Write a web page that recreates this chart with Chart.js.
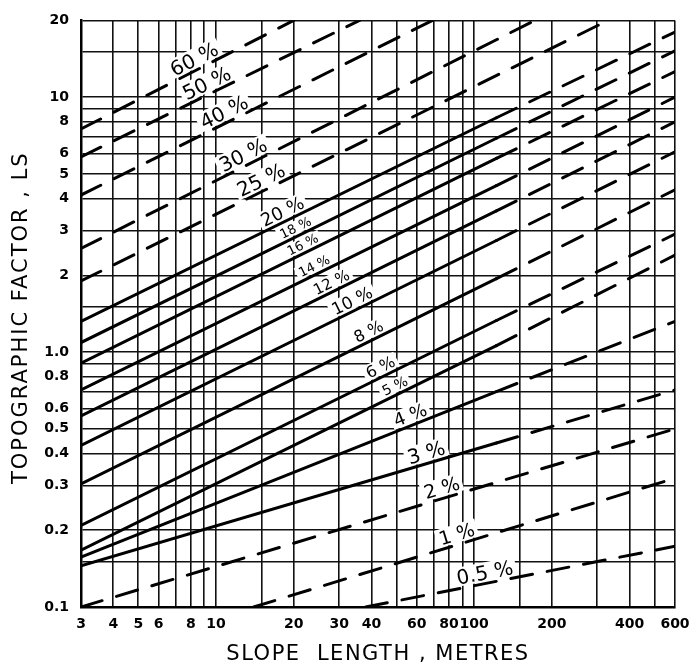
<!DOCTYPE html>
<html>
<head>
<meta charset="utf-8">
<script src="https://cdn.jsdelivr.net/npm/chart.js@4.4.0/dist/chart.umd.min.js"></script>
<style>
  html, body { margin: 0; background: #fff; }
  #wrap { width: 700px; height: 672px; }
</style>
</head>
<body>
<div id="wrap"><canvas id="ls_chart"></canvas></div>
<script>
// slope steepness of each curve
const slopeLabels = ['60 %', '50 %', '40 %', '30 %', '25 %', '20 %', '18 %', '16 %', '14 %',
  '12 %', '10 %', '8 %', '6 %', '5 %', '4 %', '3 %', '2 %', '1 %', '0.5 %'];

// slope length (m)
const slopeLengths = [
  [3, 20], [3, 36], [3, 69], [3, 172], [3, 330],
  [3, 122, 600], [3, 122, 600], [3, 122, 600], [3, 122, 600], [3, 122, 600],
  [3, 122, 600], [3, 122, 600], [3, 122, 600], [3, 122, 600], [3, 122, 600], [3, 122, 600],
  [3, 600], [14, 600], [38, 600]
];

// topographic factor LS at those lengths
const slopeFactors = [
  [7.5, 20], [5.83, 20], [4.13, 20], [2.55, 20], [1.9, 20],
  [1.32, 8.3, 18], [1.09, 6.9, 15.2], [0.905, 5.75, 12.6], [0.71, 4.5, 10.0], [0.562, 3.58, 8.0],
  [0.43, 2.74, 6.1], [0.304, 1.94, 4.33], [0.209, 1.33, 2.9], [0.167, 1.06, 2.4], [0.157, 0.70, 1.32], [0.145, 0.44, 0.71],
  [0.1, 0.5], [0.1, 0.32], [0.1, 0.173]
];

// curves backed by plot data (solid) up to this length, extrapolated beyond
const observed = [false, false, false, false, false,
  true, true, true, true, true, true, true, true, true, true, true,
  false, false, false];
const observedToLength = 122;

const lengthGrid = [3, 4, 5, 6, 7, 8, 9, 10, 15, 20, 30, 40, 50, 60, 70, 80, 90, 100, 150, 200, 300, 400, 500, 600];
const lengthTicks = ['3', '4', '5', '6', '8', '10', '20', '30', '40', '60', '80', '100', '200', '400', '600'];
const factorGrid = [0.1, 0.15, 0.2, 0.3, 0.4, 0.5, 0.6, 0.7, 0.8, 0.9, 1, 1.5, 2, 3, 4, 5, 6, 7, 8, 9, 10, 15, 20];
const factorTicks = ['0.1', '0.2', '0.3', '0.4', '0.5', '0.6', '0.8', '1.0', '2', '3', '4', '5', '6', '8', '10', '20'];

// where each curve label sits (slope length) and its lettering size
const labelAt = [8.6, 9.6, 11.2, 13.3, 15.6, 18.8, 21, 22.4, 24.8, 29, 35, 40.5, 45, 51, 58.5, 67, 77, 88, 112];
const labelSize = [20, 20, 20, 20, 20, 18, 13, 13, 13, 15, 17, 16, 16, 14, 18, 20, 19, 19, 20];

const DASH = [22, 15];
const FONT = '"DejaVu Sans", sans-serif';

function tickText(list, v) {
  const t = list.find(s => parseFloat(s) === v);
  return t === undefined ? '' : t;
}

function drawLineLabels(chart, boxes) {
  const { ctx, scales: { x, y } } = chart;
  const gap = 4;
  slopeLabels.forEach((text, i) => {
    const pts = slopeLengths[i].map((lx, k) => [x.getPixelForValue(lx), y.getPixelForValue(slopeFactors[i][k])]);
    const px = x.getPixelForValue(labelAt[i]);
    let k = 0;
    while (k < pts.length - 2 && pts[k + 1][0] < px) k++;
    const [ax, ay] = pts[k];
    const [bx, by] = pts[k + 1];
    const py = ay + (px - ax) / (bx - ax) * (by - ay);
    const ang = Math.atan2(by - ay, bx - ax);
    const size = labelSize[i];
    ctx.save();
    ctx.translate(px, py);
    ctx.rotate(ang);
    ctx.font = size + 'px ' + FONT;
    if (boxes) {
      const w = ctx.measureText(text).width;
      ctx.fillStyle = '#fff';
      ctx.fillRect(-w / 2 - 3, -gap - size * 0.85, w + 6, size * 0.85 + gap - 2);
    } else {
      ctx.fillStyle = '#000';
      ctx.textAlign = 'center';
      ctx.textBaseline = 'alphabetic';
      ctx.fillText(text, 0, -gap);
    }
    ctx.restore();
  });
}

const labelPlugin = {
  id: 'lineLabels',
  beforeDatasetsDraw(chart) { drawLineLabels(chart, true); },
  afterDatasetsDraw(chart) { drawLineLabels(chart, false); },
  afterDraw(chart) {
    const ctx = chart.ctx;
    const area = chart.chartArea;
    ctx.save();
    ctx.fillStyle = '#000';
    ctx.textAlign = 'center';
    ctx.textBaseline = 'middle';
    ctx.font = '21px ' + FONT;
    ctx.letterSpacing = '1.5px';
    ctx.fillText('SLOPE  LENGTH , METRES', (area.left + area.right) / 2, 655);
    ctx.translate(22, (area.top + area.bottom) / 2 + 4);
    ctx.rotate(-Math.PI / 2);
    ctx.letterSpacing = '2px';
    ctx.fillText('TOPOGRAPHIC FACTOR , LS', 0, 0);
    ctx.restore();
  }
};

const datasets = slopeLabels.map((name, i) => ({
  label: name,
  data: slopeLengths[i].map((lx, k) => ({ x: lx, y: slopeFactors[i][k] })),
  borderColor: '#000',
  borderWidth: 3,
  borderCapStyle: 'round',
  pointRadius: 0,
  fill: false,
  tension: 0,
  borderDash: DASH,
  segment: {
    borderDash: c => (observed[i] && c.p0.parsed.x < observedToLength - 0.01) ? [] : DASH
  }
}));

new Chart(document.getElementById('ls_chart'), {
  type: 'line',
  data: { datasets: datasets },
  options: {
    responsive: true,
    maintainAspectRatio: false,
    animation: false,
    layout: { padding: { top: 17, right: 25, left: 0, bottom: 0 } },
    plugins: { legend: { display: false }, tooltip: { enabled: false } },
    scales: {
      x: {
        type: 'logarithmic',
        min: 3,
        max: 600,
        afterBuildTicks: axis => { axis.ticks = lengthGrid.map(v => ({ value: v })); },
        afterFit: axis => { axis.height = 65; },
        grid: { color: '#111', lineWidth: 1.6, drawTicks: false },
        border: { color: '#000', width: 2.5 },
        ticks: {
          autoSkip: false,
          maxRotation: 0,
          padding: 9,
          color: '#000',
          font: { family: FONT, size: 14, weight: 'bold' },
          callback: v => tickText(lengthTicks, v)
        }
      },
      y: {
        type: 'logarithmic',
        min: 0.1,
        max: 20,
        afterBuildTicks: axis => { axis.ticks = factorGrid.map(v => ({ value: v })); },
        afterFit: axis => { axis.width = 81; },
        grid: { color: '#111', lineWidth: 1.6, drawTicks: false },
        border: { color: '#000', width: 2.5 },
        ticks: {
          autoSkip: false,
          padding: 12,
          color: '#000',
          font: { family: FONT, size: 14, weight: 'bold' },
          callback: v => tickText(factorTicks, v)
        }
      }
    }
  },
  plugins: [labelPlugin]
});
</script>
</body>
</html>
